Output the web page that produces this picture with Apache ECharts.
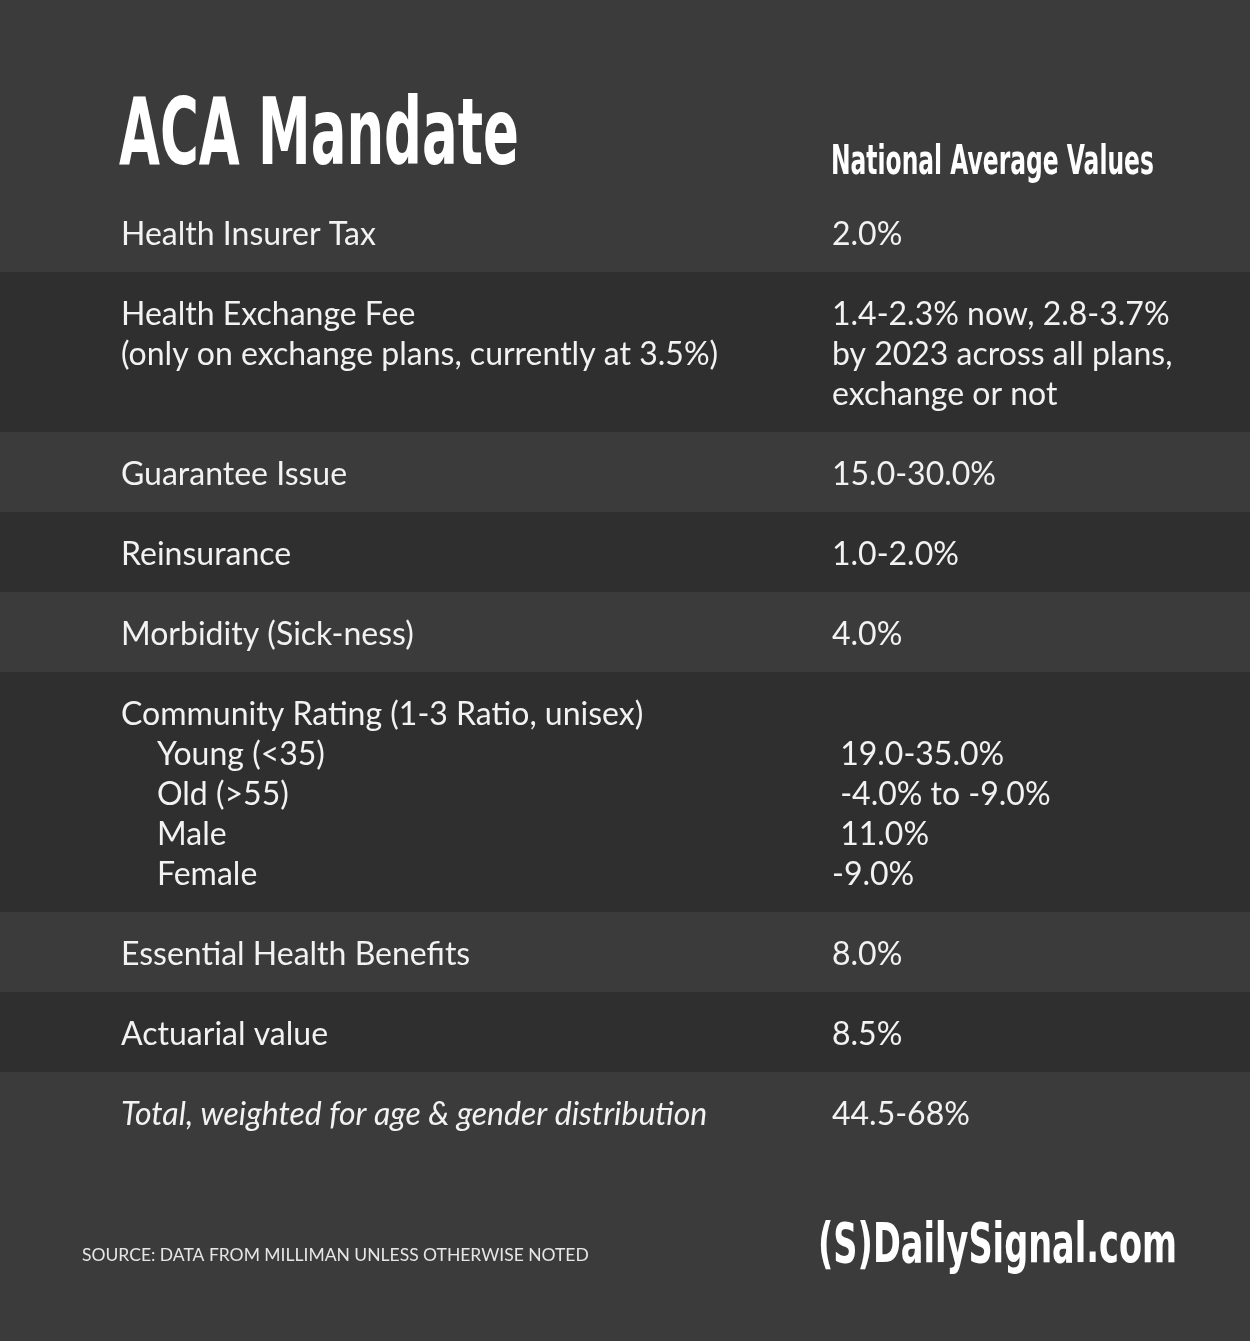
<!DOCTYPE html>
<html>
<head>
<meta charset="utf-8">
<script src="https://cdn.jsdelivr.net/npm/echarts@6/dist/echarts.min.js"></script>
<style>
  html, body { margin: 0; padding: 0; background: #3b3b3b; }
  #chart { width: 1250px; height: 1341px; }
</style>
</head>
<body>
<div id="chart"></div>
<script>
// table rows: label lines, value lines, italic flag
const rowLabels = [
  ['Health Insurer Tax'],
  ['Health Exchange Fee', '(only on exchange plans, currently at 3.5%)'],
  ['Guarantee Issue'],
  ['Reinsurance'],
  ['Morbidity (Sick-ness)'],
  ['Community Rating (1-3 Ratio, unisex)', '>Young (<35)', '>Old (>55)', '>Male', '>Female'],
  ['Essential Health Benefits'],
  ['Actuarial value'],
  ['Total, weighted for age & gender distribution']
];
const rowValues = [
  ['2.0%'],
  ['1.4-2.3% now, 2.8-3.7%', 'by 2023 across all plans,', 'exchange or not'],
  ['15.0-30.0%'],
  ['1.0-2.0%'],
  ['4.0%'],
  ['', ' 19.0-35.0%', ' -4.0% to -9.0%', ' 11.0%', '-9.0%'],
  ['8.0%'],
  ['8.5%'],
  ['44.5-68%']
];
const rowItalic = [false, false, false, false, false, false, false, false, true];

const chart = echarts.init(document.getElementById('chart'));
const bg = '#3b3b3b', band = '#2f2f2f', fg = '#f2f2f2';
const lineH = 40, pad = 40, tableTop = 192;
const labelX = 121, valueX = 832, indent = 36;
const font = 'Lato, "Noto Sans", sans-serif';
const cond = '"DejaVu Sans", sans-serif';

const elements = [
  { type: 'rect', shape: { x: 0, y: 0, width: 1250, height: 1341 }, style: { fill: bg }, silent: true },
  { type: 'text', x: 119, y: 140, scaleX: 0.575, style: { text: 'ACA Mandate', fill: '#ffffff',
      font: 'bold 92px ' + cond, textVerticalAlign: 'middle' } },
  { type: 'text', x: 831, y: 164, scaleX: 0.585, style: { text: 'National Average Values', fill: '#ffffff',
      font: 'bold 40px ' + cond, textVerticalAlign: 'middle' } }
];

let rowTop = tableTop;
rowLabels.forEach((lines, i) => {
  const n = Math.max(lines.length, rowValues[i].length);
  const h = n * lineH + pad;
  if (i % 2 === 1) {
    elements.push({ type: 'rect', shape: { x: 0, y: rowTop, width: 1250, height: h }, style: { fill: band }, silent: true });
  }
  const f = (rowItalic[i] ? 'italic ' : '') + '32px ' + font;
  lines.forEach((t, j) => {
    const ind = t.startsWith('>');
    elements.push({ type: 'text', x: labelX + (ind ? indent : 0), y: rowTop + 43 + j * lineH,
      style: { text: ind ? t.slice(1) : t, fill: fg, font: f, textVerticalAlign: 'middle' } });
  });
  rowValues[i].forEach((t, j) => {
    elements.push({ type: 'text', x: valueX, y: rowTop + 43 + j * lineH,
      style: { text: t, fill: fg, font: '32px ' + font, textVerticalAlign: 'middle' } });
  });
  rowTop += h;
});

elements.push({ type: 'text', x: 82, y: 1255, style: { text: 'SOURCE: DATA FROM MILLIMAN UNLESS OTHERWISE NOTED',
  fill: '#e6e6e6', font: '17.5px ' + font, textVerticalAlign: 'middle' } });
elements.push({ type: 'text', x: 818, y: 1247, scaleX: 0.6, style: { text: '(S)DailySignal.com', fill: '#ffffff',
  font: 'bold 56px ' + cond, textVerticalAlign: 'middle' } });

chart.setOption({ backgroundColor: bg, animation: false, graphic: { elements } });
</script>
</body>
</html>
